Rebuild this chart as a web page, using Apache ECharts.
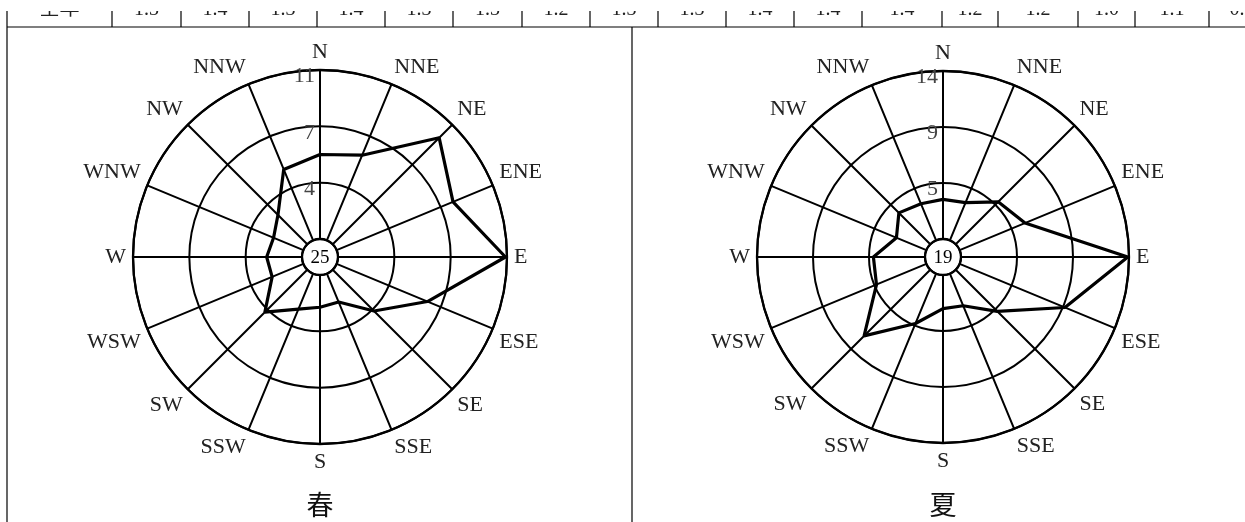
<!DOCTYPE html>
<html>
<head>
<meta charset="utf-8">
<script src="https://cdn.jsdelivr.net/npm/echarts@6/dist/echarts.min.js"></script>
<style>
  html, body { margin: 0; padding: 0; background: #fff; }
  #chart { width: 1245px; height: 522px; }
</style>
</head>
<body>
<div id="chart"></div>
<script>
// Wind directions, clockwise from north
const directions = ['N', 'NNE', 'NE', 'ENE', 'E', 'ESE', 'SE', 'SSE', 'S', 'SSW', 'SW', 'WSW', 'W', 'WNW', 'NW', 'NNW'];
// Wind direction frequency (%) per season
const springFreq = [5.5, 6.0, 9.8, 8.2, 10.9, 6.4, 3.8, 2.0, 2.1, 2.5, 3.9, 2.2, 2.3, 2.1, 2.7, 5.0];
const summerFreq = [3.3, 3.4, 5.0, 5.9, 13.9, 9.5, 4.9, 2.9, 2.8, 4.5, 7.8, 4.5, 4.3, 2.7, 3.7, 3.3];
// Calm frequency (%) shown in the centre circle
const springCalm = 25;
const summerCalm = 19;
// Outer ring value of each rose
const springMax = 11;
const summerMax = 14;
const seasonNames = ['春', '夏'];
// Last row of the wind speed table above the roses
const tableHead = '全年';
const tableValues = ['1.3', '1.4', '1.3', '1.4', '1.3', '1.3', '1.2', '1.3', '1.3', '1.4', '1.4', '1.4', '1.2', '1.2', '1.0', '1.1', '0.6'];

const SERIF = '"Liberation Serif", "DejaVu Serif", serif';
const CJK = '"Noto Sans CJK SC", sans-serif';
const STEP = 360 / directions.length;

const roses = [
  { center: [320, 257], outer: 187, freq: springFreq, calm: springCalm, max: springMax, name: seasonNames[0] },
  { center: [943, 257], outer: 186, freq: summerFreq, calm: summerCalm, max: summerMax, name: seasonNames[1] }
];
const innerR = 18;

const polar = roses.map(r => ({ center: r.center, radius: [innerR, r.outer] }));

// Angle axis in degrees, one spoke per direction
const angleAxis = roses.map((r, i) => ({
  polarIndex: i,
  type: 'value',
  min: 0,
  max: 360,
  interval: STEP,
  startAngle: 90,
  clockwise: true,
  axisLine: { show: true, lineStyle: { color: '#000', width: 2.3 } },
  axisTick: { show: false },
  splitLine: { show: true, lineStyle: { color: '#000', width: 2 } },
  axisLabel: {
    show: true,
    margin: 7,
    color: '#222',
    fontFamily: SERIF,
    fontSize: 22,
    formatter: v => (v >= 360 - 1e-6 ? '' : directions[Math.round(v / STEP) % directions.length])
  }
}));

// Radial axis drawn along the north spoke; three rings up to the maximum
const radiusAxis = roses.map((r, i) => ({
  polarIndex: i,
  type: 'value',
  min: 0,
  max: r.max,
  interval: r.max / 3,
  axisLine: { show: true, lineStyle: { color: '#000', width: 2 } },
  axisTick: { show: false },
  splitLine: { show: true, lineStyle: { color: '#000', width: 2 } },
  axisLabel: {
    show: true,
    margin: 5,
    formatter: v => (v <= 0 ? '' : '{r|' + Math.round(v) + '}'),
    rich: {
      r: { color: '#444', fontFamily: SERIF, fontSize: 22, padding: [13, 0, 0, 0] }
    }
  }
}));

const series = roses.map((r, i) => {
  const pts = r.freq.map((v, k) => [v, k * STEP]);
  pts.push([r.freq[0], 360]);
  return {
    type: 'line',
    coordinateSystem: 'polar',
    polarIndex: i,
    data: pts,
    symbol: 'none',
    silent: true,
    lineStyle: { color: '#000', width: 3.2 },
    z: 5
  };
});

// Table fragment and frame lines
const graphic = [];
const colX = [7, 112, 181, 249, 317, 385, 453, 522, 590, 658, 726, 794, 862, 942, 998, 1078, 1135, 1209, 1275];
const frame = { stroke: '#000', lineWidth: 1.2 };
graphic.push({ type: 'line', shape: { x1: 7, y1: 11, x2: 7, y2: 522 }, style: frame });
graphic.push({ type: 'line', shape: { x1: 7, y1: 27, x2: 1245, y2: 27 }, style: frame });
graphic.push({ type: 'line', shape: { x1: 632, y1: 27, x2: 632, y2: 522 }, style: frame });
for (let k = 1; k < colX.length - 1; k++) {
  graphic.push({ type: 'line', shape: { x1: colX[k], y1: 11, x2: colX[k], y2: 27 }, style: frame });
}
graphic.push({
  type: 'text', x: (colX[0] + colX[1]) / 2, y: 17,
  style: { text: tableHead, font: '20px ' + CJK, fill: '#222', align: 'center', verticalAlign: 'bottom' }
});
tableValues.forEach((t, k) => {
  graphic.push({
    type: 'text', x: (colX[k + 1] + colX[k + 2]) / 2, y: 19.5,
    style: { text: t, font: '20px ' + SERIF, fill: '#222', align: 'center', verticalAlign: 'bottom' }
  });
});

roses.forEach(r => {
  graphic.push({
    type: 'text', x: r.center[0], y: r.center[1] + 1, z: 10,
    style: { text: String(r.calm), font: '19px ' + SERIF, fill: '#000', align: 'center', verticalAlign: 'middle' }
  });
  graphic.push({
    type: 'text', x: r.center[0], y: 505,
    style: { text: r.name, font: '27px ' + CJK, fill: '#111', align: 'center', verticalAlign: 'middle' }
  });
});
// page edge above the table row
graphic.push({ type: 'rect', z: 100, shape: { x: 0, y: 0, width: 1245, height: 11 }, style: { fill: '#fff' } });

const chart = echarts.init(document.getElementById('chart'), null, { renderer: 'canvas' });
chart.setOption({
  backgroundColor: '#fff',
  animation: false,
  polar,
  angleAxis,
  radiusAxis,
  series,
  graphic
});
</script>
</body>
</html>
